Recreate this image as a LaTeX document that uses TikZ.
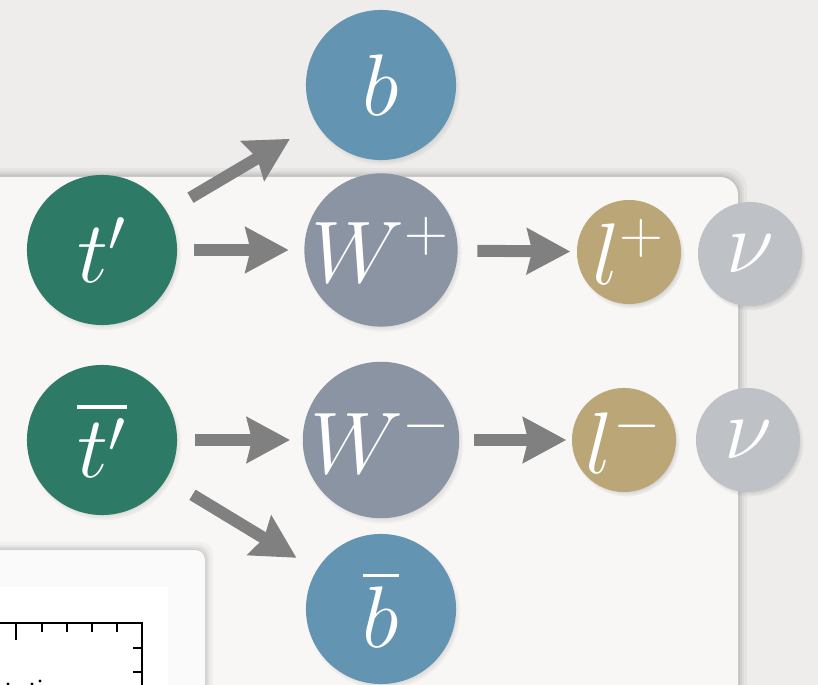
\documentclass[tikz,border=0pt]{standalone}
\usepackage{amsmath,amssymb}
\usetikzlibrary{arrows.meta,shadows}
\definecolor{bgcol}{HTML}{EEEDEB}
\definecolor{panelcol}{HTML}{F8F7F5}
\definecolor{topcol}{HTML}{2D7A66}
\definecolor{bcol}{HTML}{6394B2}
\definecolor{wcol}{HTML}{8A94A3}
\definecolor{lepcol}{HTML}{BAA676}
\definecolor{nucol}{HTML}{BEC1C6}
\definecolor{arrcol}{HTML}{808080}
\tikzset{
 particle/.style={circle,minimum size=1.5cm,inner sep=0pt,text=white,font=\fontsize{24}{24}\selectfont,
   circular drop shadow={shadow xshift=0.02cm,shadow yshift=-0.03cm,shadow scale=1.03,opacity=.4}},
 small/.style={particle,minimum size=1.04cm},
 decay/.style={draw=arrcol,line width=0.12cm,-{Stealth[length=0.43cm,width=0.45cm,inset=0.05cm,fill=arrcol]}},
}
\begin{document}
\begin{tikzpicture}[x=0.01cm,y=-0.01cm]
\useasboundingbox (0,0) rectangle (818,685);
\fill[bgcol] (0,0) rectangle (818,685);
\foreach \s/\o in {9/.03,6/.04,4/.05,2/.06}
  \fill[black,opacity=\o,rounded corners=0.2cm] (-30,177-\s) rectangle (738+\s,720);
\fill[panelcol,rounded corners=0.18cm] (-30,177) rectangle (738,720);
\foreach \s/\o in {8/.03,5/.04,3/.05,1/.06}
  \fill[black,opacity=\o,rounded corners=0.12cm] (-30,550-\s) rectangle (205+\s,720);
\fill[white!98!black,rounded corners=0.1cm] (-30,550) rectangle (205,720);
\fill[white] (-10,587) rectangle (168,700);
\draw[black,line width=0.6pt] (-5,623) -- (142,623) -- (142,700);
\draw[black,line width=0.5pt] (16,623) -- (16,640);
\foreach \x in {42,67,92,117} \draw[black,line width=0.5pt] (\x,623) -- (\x,632);
\foreach \y in {648,672} \draw[black,line width=0.5pt] (142,\y) -- (133,\y);
\fill[black] (8,684) circle (1.6) (32,684) circle (1.6) (40,681) circle (1.6);
\node[particle,fill=topcol] (tp) at (102,250) {$t'$};
\node[particle,fill=bcol] (b) at (381,85) {$b$};
\node[particle,fill=wcol] (wp) at (381,250) {$W^{+}$};
\node[small,fill=lepcol] (lp) at (629,252) {$l^{+}$};
\node[small,fill=nucol] (nup) at (750,254) {$\nu$};
\node[particle,fill=topcol] (tpbar) at (102,440) {$\overline{t'}$};
\node[particle,fill=wcol] (wm) at (381,440) {$W^{-}$};
\node[small,fill=lepcol] (lm) at (624,440) {$l^{-}$};
\node[small,fill=nucol] (num) at (748,440) {$\nu$};
\node[particle,fill=bcol] (bbar) at (381,609) {$\overline{b}$};
\draw[decay,shorten <=0.27cm,shorten >=0.3cm] (tp) -- (b);
\draw[decay,shorten <=0.16cm,shorten >=0.15cm] (tp) -- (wp);
\draw[decay,shorten <=0.19cm,shorten >=0.06cm] (wp) -- (lp);
\draw[decay,shorten <=0.17cm,shorten >=0.12cm] (tpbar) -- (wm);
\draw[decay,shorten <=0.14cm,shorten >=0.05cm] (wm) -- (lm);
\draw[decay,shorten <=0.3cm,shorten >=0.23cm] (tpbar) -- (bbar);
\end{tikzpicture}
\end{document}
